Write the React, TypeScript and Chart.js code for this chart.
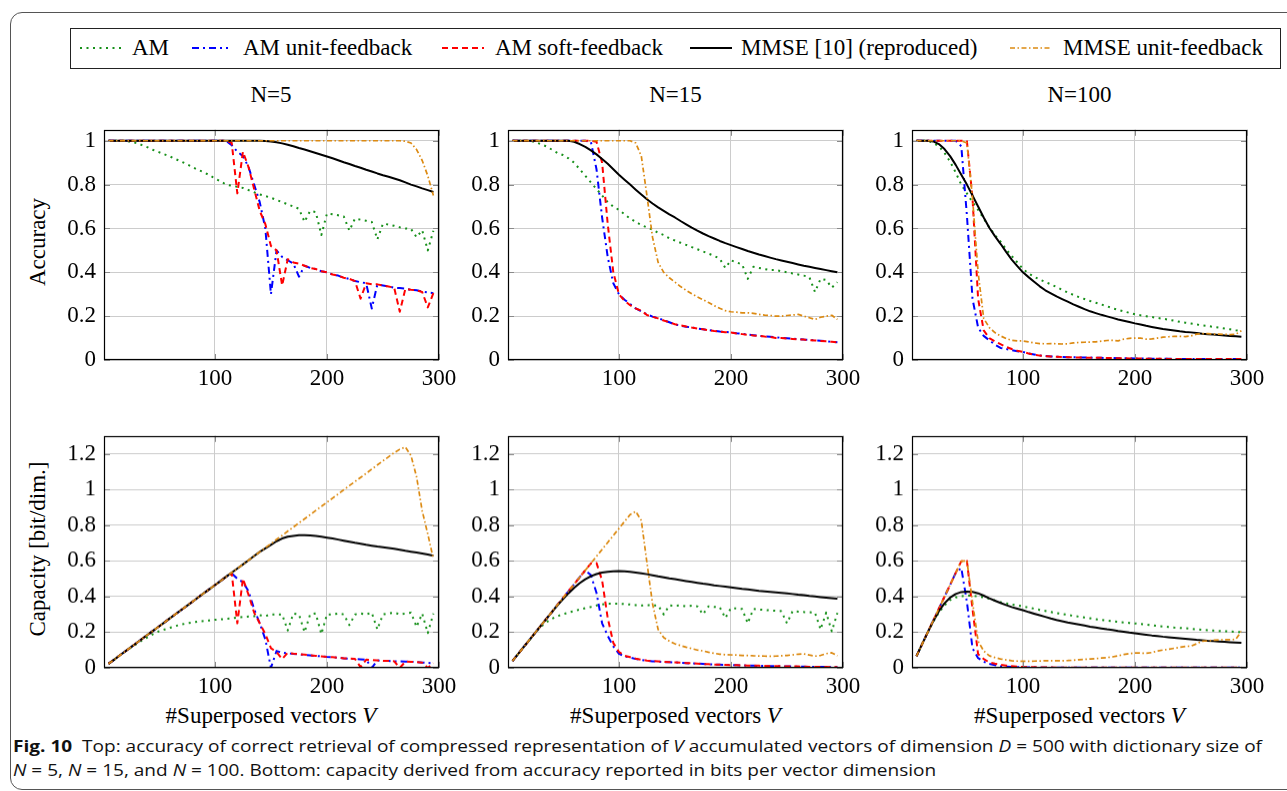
import React, { useEffect, useLayoutEffect, useRef } from 'react';
import { Chart, registerables } from 'chart.js';

Chart.register(...registerables);

const SERIF = "'Liberation Serif', 'Times New Roman', serif";
const SANS = "'Liberation Sans Narrow', 'Open Sans', 'Noto Sans', sans-serif";

// ---------- axes / labels ----------
const V = [
  5, 10, 15, 20, 25, 30, 35, 40, 45, 50,
  55, 60, 65, 70, 75, 80, 85, 90, 95, 100,
  105, 110, 115, 120, 125, 130, 135, 140, 145, 150,
  155, 160, 165, 170, 175, 180, 185, 190, 195, 200,
  205, 210, 215, 220, 225, 230, 235, 240, 245, 250,
  255, 260, 265, 270, 275, 280, 285, 290, 295,
];
const X_TICKS = [100, 200, 300];
const ACC_TICKS = [0, 0.2, 0.4, 0.6, 0.8, 1];
const CAP_TICKS = [0, 0.2, 0.4, 0.6, 0.8, 1, 1.2];
const SERIES_LABELS = ['AM', 'AM unit-feedback', 'AM soft-feedback', 'MMSE [10] (reproduced)', 'MMSE unit-feedback'];
const PANEL_TITLES = ['N=5', 'N=15', 'N=100'];
const Y_TITLES = ['Accuracy', 'Capacity [bit/dim.]'];

// ---------- N = 5, accuracy ----------
const acc5_am = [
  1, 1, 1, 1, 0.995, 0.99, 0.98, 0.97, 0.958, 0.948,
  0.938, 0.928, 0.916, 0.905, 0.893, 0.88, 0.867, 0.857, 0.843, 0.828,
  0.815, 0.8, 0.795, 0.79, 0.785, 0.775, 0.765, 0.755, 0.748, 0.74,
  0.73, 0.72, 0.71, 0.7, 0.69, 0.63, 0.68, 0.675, 0.57, 0.668,
  0.665, 0.66, 0.655, 0.59, 0.645, 0.64, 0.635, 0.63, 0.55, 0.622,
  0.618, 0.612, 0.605, 0.6, 0.598, 0.56, 0.592, 0.5, 0.59,
];
const acc5_unit = [
  1, 1, 1, 1, 1, 1, 1, 1, 1, 1,
  1, 1, 1, 1, 1, 1, 1, 1, 1, 1,
  1, 1, 0.98, 0.95, 0.93, 0.88, 0.8, 0.72, 0.6, 0.3,
  0.5, 0.47, 0.455, 0.44, 0.38, 0.43, 0.42, 0.415, 0.405, 0.4,
  0.39, 0.385, 0.375, 0.37, 0.36, 0.355, 0.35, 0.235, 0.345, 0.34,
  0.335, 0.33, 0.328, 0.325, 0.32, 0.318, 0.312, 0.308, 0.305,
];
const acc5_soft = [
  1, 1, 1, 1, 1, 1, 1, 1, 1, 1,
  1, 1, 1, 1, 1, 1, 1, 1, 1, 1,
  1, 1, 0.99, 0.76, 0.95, 0.88, 0.78, 0.68, 0.62, 0.52,
  0.5, 0.34, 0.46, 0.445, 0.44, 0.43, 0.42, 0.415, 0.405, 0.4,
  0.39, 0.385, 0.375, 0.37, 0.36, 0.28, 0.35, 0.345, 0.345, 0.34,
  0.335, 0.33, 0.22, 0.325, 0.32, 0.318, 0.31, 0.24, 0.305,
];
const acc5_mmse = [
  1, 1, 1, 1, 1, 1, 1, 1, 1, 1,
  1, 1, 1, 1, 1, 1, 1, 1, 1, 1,
  1, 1, 1, 1, 1, 1, 1, 1, 0.999, 0.997,
  0.993, 0.988, 0.982, 0.975, 0.967, 0.96, 0.952, 0.944, 0.936, 0.928,
  0.92, 0.911, 0.902, 0.894, 0.885, 0.877, 0.868, 0.86, 0.851, 0.843,
  0.836, 0.828, 0.82, 0.81, 0.8, 0.792, 0.783, 0.775, 0.766,
];
const acc5_mmseUnit = [
  1, 1, 1, 1, 1, 1, 1, 1, 1, 1,
  1, 1, 1, 1, 1, 1, 1, 1, 1, 1,
  1, 1, 1, 1, 1, 1, 1, 1, 1, 1,
  1, 1, 1, 1, 1, 1, 1, 1, 1, 1,
  1, 1, 1, 1, 1, 1, 1, 1, 1, 1,
  1, 1, 1, 0.998, 0.99, 0.96, 0.91, 0.84, 0.75,
];

// ---------- N = 15, accuracy ----------
const acc15_am = [
  1, 1, 1, 1, 0.995, 0.985, 0.975, 0.96, 0.945, 0.935,
  0.92, 0.9, 0.87, 0.84, 0.81, 0.78, 0.75, 0.72, 0.7, 0.685,
  0.665, 0.645, 0.63, 0.615, 0.605, 0.595, 0.58, 0.57, 0.555, 0.545,
  0.535, 0.525, 0.515, 0.505, 0.495, 0.485, 0.475, 0.462, 0.42, 0.455,
  0.445, 0.436, 0.37, 0.425, 0.42, 0.415, 0.41, 0.41, 0.405, 0.4,
  0.395, 0.39, 0.385, 0.378, 0.31, 0.37, 0.365, 0.33, 0.355,
];
const acc15_unit = [
  1, 1, 1, 1, 1, 1, 1, 1, 1, 1,
  1, 1, 1, 1, 0.995, 0.87, 0.65, 0.47, 0.35, 0.3,
  0.275, 0.255, 0.235, 0.222, 0.208, 0.198, 0.19, 0.182, 0.172, 0.162,
  0.157, 0.152, 0.148, 0.144, 0.14, 0.136, 0.133, 0.13, 0.128, 0.126,
  0.122, 0.119, 0.116, 0.113, 0.11, 0.108, 0.106, 0.104, 0.101, 0.099,
  0.097, 0.095, 0.093, 0.092, 0.09, 0.088, 0.086, 0.083, 0.081,
];
const acc15_soft = [
  1, 1, 1, 1, 1, 1, 1, 1, 1, 1,
  1, 1, 1, 1, 1, 0.995, 0.9, 0.62, 0.4, 0.3,
  0.27, 0.25, 0.235, 0.225, 0.205, 0.197, 0.19, 0.18, 0.172, 0.163,
  0.158, 0.153, 0.148, 0.144, 0.14, 0.136, 0.132, 0.13, 0.127, 0.125,
  0.121, 0.118, 0.115, 0.112, 0.11, 0.107, 0.105, 0.1, 0.1, 0.098,
  0.096, 0.094, 0.093, 0.09, 0.089, 0.087, 0.085, 0.083, 0.08,
];
const acc15_mmse = [
  1, 1, 1, 1, 1, 1, 1, 1, 1, 1,
  1, 0.995, 0.985, 0.972, 0.956, 0.938, 0.917, 0.895, 0.87, 0.845,
  0.822, 0.8, 0.777, 0.755, 0.733, 0.714, 0.696, 0.68, 0.664, 0.65,
  0.634, 0.619, 0.604, 0.59, 0.577, 0.565, 0.554, 0.543, 0.533, 0.524,
  0.515, 0.506, 0.497, 0.489, 0.481, 0.474, 0.467, 0.46, 0.454, 0.448,
  0.442, 0.436, 0.43, 0.425, 0.42, 0.415, 0.41, 0.405, 0.4,
];
const acc15_mmseUnit = [
  1, 1, 1, 1, 1, 1, 1, 1, 1, 1,
  1, 1, 1, 1, 1, 1, 1, 1, 1, 1,
  1, 1, 0.99, 0.93, 0.75, 0.56, 0.445, 0.4, 0.375, 0.355,
  0.335, 0.318, 0.302, 0.288, 0.275, 0.262, 0.248, 0.236, 0.225, 0.22,
  0.218, 0.215, 0.215, 0.213, 0.208, 0.205, 0.203, 0.2, 0.2, 0.203,
  0.205, 0.208, 0.2, 0.193, 0.185, 0.195, 0.2, 0.204, 0.185,
];

// ---------- N = 100, accuracy ----------
const acc100_am = [
  1, 1, 1, 0.99, 0.975, 0.945, 0.905, 0.855, 0.8, 0.76,
  0.72, 0.685, 0.645, 0.605, 0.57, 0.54, 0.505, 0.475, 0.445, 0.415,
  0.395, 0.38, 0.367, 0.356, 0.345, 0.333, 0.32, 0.308, 0.297, 0.287,
  0.278, 0.269, 0.261, 0.253, 0.245, 0.236, 0.229, 0.222, 0.215, 0.209,
  0.204, 0.2, 0.196, 0.192, 0.188, 0.184, 0.179, 0.174, 0.17, 0.166,
  0.162, 0.158, 0.155, 0.151, 0.148, 0.144, 0.14, 0.136, 0.133,
];
const acc100_unit = [
  1, 1, 1, 1, 1, 1, 1, 1, 0.975, 0.66,
  0.28, 0.148, 0.11, 0.09, 0.07, 0.055, 0.05, 0.045, 0.04, 0.037,
  0.03, 0.025, 0.02, 0.018, 0.016, 0.015, 0.014, 0.013, 0.012, 0.012,
  0.011, 0.011, 0.01, 0.01, 0.009, 0.009, 0.008, 0.008, 0.008, 0.007,
  0.007, 0.007, 0.006, 0.006, 0.006, 0.006, 0.005, 0.005, 0.005, 0.005,
  0.005, 0.005, 0.004, 0.004, 0.004, 0.004, 0.004, 0.004, 0.004,
];
const acc100_soft = [
  1, 1, 1, 1, 1, 1, 1, 1, 1, 0.998,
  0.74, 0.28, 0.135, 0.1, 0.085, 0.072, 0.06, 0.05, 0.042, 0.037,
  0.03, 0.024, 0.02, 0.017, 0.016, 0.015, 0.014, 0.013, 0.012, 0.011,
  0.011, 0.01, 0.01, 0.01, 0.009, 0.009, 0.008, 0.008, 0.007, 0.007,
  0.007, 0.006, 0.006, 0.006, 0.006, 0.005, 0.005, 0.005, 0.005, 0.005,
  0.005, 0.004, 0.004, 0.004, 0.004, 0.004, 0.004, 0.004, 0.004,
];
const acc100_mmse = [
  1, 1, 1, 0.997, 0.985, 0.962, 0.93, 0.89, 0.845, 0.8,
  0.75, 0.7, 0.65, 0.603, 0.565, 0.53, 0.493, 0.458, 0.428, 0.4,
  0.378, 0.357, 0.336, 0.318, 0.304, 0.29, 0.278, 0.266, 0.254, 0.243,
  0.232, 0.222, 0.214, 0.206, 0.199, 0.192, 0.185, 0.179, 0.173, 0.167,
  0.162, 0.156, 0.151, 0.146, 0.141, 0.138, 0.135, 0.131, 0.128, 0.126,
  0.123, 0.12, 0.118, 0.116, 0.114, 0.112, 0.11, 0.108, 0.106,
];
const acc100_mmseUnit = [
  1, 1, 1, 1, 1, 1, 1, 1, 1, 0.99,
  0.74, 0.4, 0.19, 0.148, 0.125, 0.11, 0.098, 0.09, 0.087, 0.087,
  0.083, 0.078, 0.075, 0.074, 0.075, 0.074, 0.073, 0.074, 0.078, 0.08,
  0.081, 0.082, 0.083, 0.086, 0.089, 0.09, 0.087, 0.095, 0.099, 0.1,
  0.1, 0.095, 0.096, 0.1, 0.104, 0.106, 0.108, 0.108, 0.107, 0.11,
  0.118, 0.12, 0.12, 0.118, 0.118, 0.117, 0.116, 0.118, 0.133,
];

// ---------- N = 5, capacity ----------
const cap5_am = [
  0.023, 0.046, 0.07, 0.092, 0.114, 0.134, 0.155, 0.172, 0.19, 0.205,
  0.215, 0.225, 0.235, 0.243, 0.25, 0.255, 0.26, 0.263, 0.266, 0.27,
  0.272, 0.275, 0.278, 0.282, 0.285, 0.288, 0.29, 0.295, 0.29, 0.3,
  0.3, 0.3, 0.21, 0.305, 0.3, 0.2, 0.3, 0.305, 0.19, 0.3,
  0.3, 0.305, 0.3, 0.24, 0.3, 0.305, 0.3, 0.31, 0.215, 0.3,
  0.305, 0.31, 0.3, 0.305, 0.31, 0.23, 0.305, 0.195, 0.305,
];
const cap5_unit = [
  0.023, 0.046, 0.07, 0.093, 0.116, 0.139, 0.163, 0.186, 0.209, 0.232,
  0.255, 0.279, 0.302, 0.325, 0.348, 0.371, 0.395, 0.418, 0.441, 0.464,
  0.487, 0.511, 0.53, 0.5, 0.48, 0.43, 0.33, 0.25, 0.16, 0.0,
  0.095, 0.085, 0.082, 0.079, 0.076, 0.073, 0.07, 0.067, 0.065, 0.062,
  0.06, 0.057, 0.054, 0.052, 0.05, 0.048, 0.046, 0.0, 0.042, 0.04,
  0.039, 0.037, 0.036, 0.035, 0.034, 0.032, 0.03, 0.028, 0.026,
];
const cap5_soft = [
  0.023, 0.046, 0.07, 0.093, 0.116, 0.139, 0.163, 0.186, 0.209, 0.232,
  0.255, 0.279, 0.302, 0.325, 0.348, 0.371, 0.395, 0.418, 0.441, 0.464,
  0.487, 0.511, 0.53, 0.25, 0.5, 0.41, 0.31, 0.25, 0.19, 0.11,
  0.09, 0.05, 0.085, 0.08, 0.077, 0.074, 0.071, 0.068, 0.065, 0.062,
  0.06, 0.057, 0.054, 0.052, 0.05, 0.005, 0.046, 0.044, 0.042, 0.04,
  0.039, 0.037, 0.0, 0.035, 0.034, 0.032, 0.03, 0.0, 0.026,
];
const cap5_mmse = [
  0.023, 0.046, 0.07, 0.093, 0.116, 0.139, 0.163, 0.186, 0.209, 0.232,
  0.255, 0.279, 0.302, 0.325, 0.348, 0.371, 0.395, 0.418, 0.441, 0.464,
  0.487, 0.511, 0.534, 0.557, 0.58, 0.603, 0.627, 0.65, 0.67, 0.69,
  0.71, 0.725, 0.735, 0.74, 0.743, 0.743, 0.742, 0.739, 0.735, 0.73,
  0.725, 0.719, 0.713, 0.707, 0.701, 0.696, 0.69, 0.685, 0.68, 0.676,
  0.672, 0.668, 0.662, 0.656, 0.651, 0.646, 0.641, 0.635, 0.628,
];
const cap5_mmseUnit = [
  0.023, 0.046, 0.07, 0.093, 0.116, 0.139, 0.163, 0.186, 0.209, 0.232,
  0.255, 0.279, 0.302, 0.325, 0.348, 0.371, 0.395, 0.418, 0.441, 0.464,
  0.487, 0.511, 0.534, 0.557, 0.58, 0.603, 0.627, 0.65, 0.673, 0.696,
  0.72, 0.742, 0.766, 0.789, 0.812, 0.835, 0.858, 0.882, 0.905, 0.928,
  0.951, 0.974, 0.998, 1.021, 1.044, 1.067, 1.09, 1.114, 1.137, 1.16,
  1.183, 1.206, 1.225, 1.237, 1.19, 1.07, 0.88, 0.75, 0.61,
];

// ---------- N = 15, capacity ----------
const cap15_am = [
  0.039, 0.078, 0.117, 0.156, 0.195, 0.228, 0.255, 0.275, 0.29, 0.3,
  0.31, 0.318, 0.327, 0.335, 0.342, 0.35, 0.355, 0.36, 0.36, 0.36,
  0.358, 0.355, 0.352, 0.35, 0.352, 0.35, 0.35, 0.3, 0.35, 0.348,
  0.35, 0.345, 0.348, 0.345, 0.3, 0.345, 0.342, 0.34, 0.28, 0.335,
  0.333, 0.33, 0.25, 0.33, 0.327, 0.325, 0.322, 0.32, 0.318, 0.25,
  0.318, 0.315, 0.313, 0.312, 0.31, 0.215, 0.31, 0.205, 0.308,
];
const cap15_unit = [
  0.039, 0.078, 0.117, 0.156, 0.195, 0.234, 0.273, 0.312, 0.352, 0.391,
  0.43, 0.469, 0.508, 0.547, 0.52, 0.42, 0.25, 0.18, 0.12, 0.08,
  0.065, 0.058, 0.05, 0.045, 0.04, 0.037, 0.035, 0.033, 0.032, 0.031,
  0.029, 0.027, 0.025, 0.024, 0.022, 0.02, 0.019, 0.018, 0.017, 0.016,
  0.015, 0.014, 0.013, 0.012, 0.011, 0.011, 0.01, 0.01, 0.009, 0.009,
  0.008, 0.007, 0.007, 0.006, 0.006, 0.005, 0.005, 0.004, 0.004,
];
const cap15_soft = [
  0.039, 0.078, 0.117, 0.156, 0.195, 0.234, 0.273, 0.312, 0.352, 0.391,
  0.43, 0.469, 0.508, 0.547, 0.586, 0.588, 0.49, 0.28, 0.14, 0.09,
  0.068, 0.06, 0.052, 0.046, 0.041, 0.038, 0.036, 0.034, 0.032, 0.031,
  0.029, 0.027, 0.026, 0.024, 0.022, 0.021, 0.019, 0.018, 0.017, 0.016,
  0.015, 0.014, 0.013, 0.012, 0.012, 0.011, 0.01, 0.01, 0.009, 0.009,
  0.008, 0.008, 0.007, 0.006, 0.006, 0.005, 0.005, 0.004, 0.004,
];
const cap15_mmse = [
  0.039, 0.078, 0.117, 0.156, 0.195, 0.234, 0.273, 0.312, 0.35, 0.385,
  0.418, 0.448, 0.475, 0.497, 0.514, 0.526, 0.534, 0.539, 0.541, 0.542,
  0.541, 0.538, 0.534, 0.53, 0.525, 0.519, 0.513, 0.508, 0.502, 0.497,
  0.492, 0.487, 0.482, 0.477, 0.472, 0.468, 0.463, 0.459, 0.455, 0.451,
  0.447, 0.443, 0.44, 0.436, 0.432, 0.429, 0.426, 0.423, 0.42, 0.417,
  0.414, 0.41, 0.407, 0.403, 0.4, 0.397, 0.394, 0.391, 0.388,
];
const cap15_mmseUnit = [
  0.039, 0.078, 0.117, 0.156, 0.195, 0.234, 0.273, 0.312, 0.352, 0.391,
  0.43, 0.469, 0.508, 0.547, 0.586, 0.625, 0.664, 0.703, 0.742, 0.781,
  0.82, 0.859, 0.877, 0.826, 0.59, 0.36, 0.215, 0.17, 0.15, 0.135,
  0.125, 0.116, 0.108, 0.1, 0.095, 0.088, 0.082, 0.077, 0.074, 0.073,
  0.072, 0.07, 0.07, 0.068, 0.067, 0.066, 0.065, 0.066, 0.068, 0.07,
  0.073, 0.077, 0.079, 0.072, 0.066, 0.07, 0.08, 0.085, 0.068,
];

// ---------- N = 100, capacity ----------
const cap100_am = [
  0.066, 0.133, 0.199, 0.26, 0.31, 0.35, 0.38, 0.395, 0.402, 0.405,
  0.405, 0.4, 0.396, 0.388, 0.378, 0.369, 0.362, 0.355, 0.35, 0.345,
  0.338, 0.332, 0.325, 0.319, 0.313, 0.307, 0.302, 0.297, 0.292, 0.287,
  0.283, 0.278, 0.273, 0.269, 0.265, 0.261, 0.258, 0.255, 0.252, 0.249,
  0.246, 0.243, 0.239, 0.235, 0.232, 0.229, 0.226, 0.224, 0.222, 0.219,
  0.216, 0.213, 0.211, 0.209, 0.207, 0.205, 0.204, 0.202, 0.2,
];
const cap100_unit = [
  0.066, 0.133, 0.199, 0.266, 0.332, 0.399, 0.465, 0.532, 0.56, 0.37,
  0.11, 0.055, 0.035, 0.022, 0.016, 0.01, 0.007, 0.005, 0.004, 0.003,
  0.003, 0.003, 0.002, 0.002, 0.002, 0.002, 0.002, 0.002, 0.002, 0.002,
  0.002, 0.002, 0.001, 0.001, 0.001, 0.001, 0.001, 0.001, 0.001, 0.001,
  0.001, 0.001, 0.001, 0.001, 0.001, 0.001, 0.001, 0.001, 0.001, 0.001,
  0.001, 0.001, 0.001, 0.001, 0.001, 0.001, 0.001, 0.001, 0.001,
];
const cap100_soft = [
  0.066, 0.133, 0.199, 0.266, 0.332, 0.399, 0.465, 0.532, 0.598, 0.6,
  0.33, 0.077, 0.05, 0.031, 0.024, 0.018, 0.013, 0.01, 0.007, 0.005,
  0.004, 0.004, 0.003, 0.003, 0.003, 0.002, 0.002, 0.002, 0.002, 0.002,
  0.002, 0.002, 0.002, 0.001, 0.001, 0.001, 0.001, 0.001, 0.001, 0.001,
  0.001, 0.001, 0.001, 0.001, 0.001, 0.001, 0.001, 0.001, 0.001, 0.001,
  0.001, 0.001, 0.001, 0.001, 0.001, 0.001, 0.001, 0.001, 0.001,
];
const cap100_mmse = [
  0.066, 0.133, 0.199, 0.262, 0.318, 0.362, 0.394, 0.414, 0.425, 0.428,
  0.426, 0.418, 0.405, 0.39, 0.377, 0.364, 0.352, 0.341, 0.332, 0.323,
  0.313, 0.304, 0.295, 0.286, 0.277, 0.269, 0.262, 0.255, 0.249, 0.243,
  0.237, 0.231, 0.226, 0.221, 0.216, 0.212, 0.207, 0.203, 0.198, 0.194,
  0.19, 0.186, 0.182, 0.179, 0.175, 0.172, 0.169, 0.166, 0.163, 0.16,
  0.157, 0.155, 0.152, 0.15, 0.148, 0.146, 0.144, 0.142, 0.14,
];
const cap100_mmseUnit = [
  0.066, 0.133, 0.199, 0.266, 0.332, 0.399, 0.465, 0.532, 0.598, 0.6,
  0.37, 0.15, 0.095, 0.068, 0.058, 0.05, 0.045, 0.04, 0.038, 0.037,
  0.037, 0.038, 0.039, 0.04, 0.04, 0.04, 0.04, 0.041, 0.043, 0.046,
  0.048, 0.05, 0.052, 0.055, 0.058, 0.062, 0.068, 0.075, 0.08, 0.084,
  0.083, 0.082, 0.086, 0.095, 0.1, 0.104, 0.11, 0.115, 0.12, 0.122,
  0.135, 0.15, 0.152, 0.155, 0.157, 0.158, 0.158, 0.16, 0.205,
];

const PANELS = [
  [acc5_am, acc5_unit, acc5_soft, acc5_mmse, acc5_mmseUnit],
  [acc15_am, acc15_unit, acc15_soft, acc15_mmse, acc15_mmseUnit],
  [acc100_am, acc100_unit, acc100_soft, acc100_mmse, acc100_mmseUnit],
  [cap5_am, cap5_unit, cap5_soft, cap5_mmse, cap5_mmseUnit],
  [cap15_am, cap15_unit, cap15_soft, cap15_mmse, cap15_mmseUnit],
  [cap100_am, cap100_unit, cap100_soft, cap100_mmse, cap100_mmseUnit],
];

// ---------- styles & layout ----------
const STYLES = [
  { color: '#17901a', dash: [2, 4.5], width: 2, svgDash: '2 4.5' },
  { color: '#0000ff', dash: [7, 4, 2, 4], width: 2, svgDash: '7 4 2 4' },
  { color: '#ff0000', dash: [6, 4], width: 2, svgDash: '6 4' },
  { color: '#000000', dash: [], width: 2, svgDash: '' },
  { color: '#dc8a12', dash: [5, 2.5, 1.5, 2.5], width: 1.7, svgDash: '5 2.5 1.5 2.5' },
];

const COL_LEFT = [103.5, 508, 912];
const PLOT_W = 335;
const ROW_TOP = [123.5, 430];
const PLOT_H = [236.5, 237.5];
const Y_MAX = [1.05, 1.3];
const PAD_L = 72;
const PAD_R = 32;
const PAD_T = 16;
const PAD_B = 36;
const TICK_FONT = 23;

const framePlugin = {
  id: 'pgfFrame',
  afterDraw(chart: any) {
    const { ctx, chartArea: a, scales } = chart;
    ctx.save();
    ctx.lineWidth = 1;
    ctx.strokeStyle = '#8a8a8a';
    ctx.beginPath();
    scales.y.ticks.forEach((t: any) => {
      const y = Math.round(scales.y.getPixelForValue(t.value)) + 0.5;
      ctx.moveTo(a.left, y); ctx.lineTo(a.left + 6, y);
      ctx.moveTo(a.right - 6, y); ctx.lineTo(a.right, y);
    });
    scales.x.ticks.forEach((t: any) => {
      const x = Math.round(scales.x.getPixelForValue(t.value)) + 0.5;
      ctx.moveTo(x, a.bottom); ctx.lineTo(x, a.bottom - 6);
      ctx.moveTo(x, a.top); ctx.lineTo(x, a.top + 6);
    });
    ctx.stroke();
    ctx.strokeStyle = '#000';
    ctx.lineWidth = 1.2;
    ctx.strokeRect(Math.round(a.left) + 0.5, Math.round(a.top) + 0.5, Math.round(a.right - a.left) - 1, Math.round(a.bottom - a.top) - 1);
    ctx.restore();
  },
};

function fmt(v: number) {
  return String(Number(Number(v).toFixed(1)));
}

function Panel({ index }: { index: number }) {
  const ref = useRef<HTMLCanvasElement | null>(null);
  const col = index % 3;
  const row = Math.floor(index / 3);
  const w = PAD_L + PLOT_W + PAD_R;
  const h = PAD_T + PLOT_H[row] + PAD_B;

  useEffect(() => {
    const series = PANELS[index];
    const yTicks = row === 0 ? ACC_TICKS : CAP_TICKS;
    const chart = new Chart(ref.current as HTMLCanvasElement, {
      type: 'line',
      data: {
        datasets: series.map((ys, i) => ({
          label: SERIES_LABELS[i],
          data: V.map((v, k) => ({ x: v, y: ys[k] })),
          borderColor: STYLES[i].color,
          backgroundColor: STYLES[i].color,
          borderDash: STYLES[i].dash,
          borderWidth: STYLES[i].width,
          borderCapStyle: 'butt',
          borderJoinStyle: 'round',
          pointRadius: 0,
          fill: false,
          tension: 0,
          order: 5 - i,
        })),
      },
      options: {
        responsive: false,
        maintainAspectRatio: false,
        animation: false,
        devicePixelRatio: 1,
        events: [],
        layout: { padding: { left: 0, right: PAD_R, top: PAD_T, bottom: 0 } },
        plugins: { legend: { display: false }, tooltip: { enabled: false }, title: { display: false } },
        scales: {
          x: {
            type: 'linear',
            min: 1,
            max: 300,
            afterBuildTicks: (s: any) => { s.ticks = X_TICKS.map((v) => ({ value: v })); },
            afterFit: (s: any) => { s.height = PAD_B; },
            grid: { color: '#cccccc', lineWidth: 1, drawTicks: false },
            border: { display: false },
            ticks: {
              font: { family: SERIF, size: TICK_FONT },
              color: '#000',
              padding: 5,
              maxRotation: 0,
              autoSkip: false,
              callback: (v: any) => String(v),
            },
          },
          y: {
            type: 'linear',
            min: 0,
            max: Y_MAX[row],
            afterBuildTicks: (s: any) => { s.ticks = yTicks.map((v) => ({ value: v })); },
            afterFit: (s: any) => { s.width = PAD_L; },
            grid: { color: '#cccccc', lineWidth: 1, drawTicks: false },
            border: { display: false },
            ticks: {
              font: { family: SERIF, size: TICK_FONT },
              color: '#000',
              padding: 8,
              autoSkip: false,
              callback: (v: any) => fmt(v),
            },
          },
        },
      },
      plugins: [framePlugin],
    } as any);
    return () => chart.destroy();
  }, []);

  return (
    <canvas
      ref={ref}
      width={w}
      height={h}
      style={{ position: 'absolute', left: COL_LEFT[col] - PAD_L, top: ROW_TOP[row] - PAD_T, width: w, height: h }}
    />
  );
}

const LEGEND_POS = [
  { sx: 80, sw: 42, tx: 132 },
  { sx: 192, sw: 36, tx: 243 },
  { sx: 442, sw: 42, tx: 495 },
  { sx: 690, sw: 42, tx: 741 },
  { sx: 1010, sw: 41, tx: 1063 },
];

function Legend() {
  return (
    <>
      <div style={{ position: 'absolute', left: 70, top: 28, width: 1211, height: 41, boxSizing: 'border-box', border: '1px solid #222' }} />
      {SERIES_LABELS.map((lab, i) => (
        <React.Fragment key={lab}>
          <svg style={{ position: 'absolute', left: LEGEND_POS[i].sx, top: 46, width: LEGEND_POS[i].sw, height: 4 }}>
            <line x1={0} y1={2} x2={LEGEND_POS[i].sw} y2={2} stroke={STYLES[i].color} strokeWidth={STYLES[i].width} strokeDasharray={STYLES[i].svgDash} />
          </svg>
          <div style={{ position: 'absolute', left: LEGEND_POS[i].tx, top: 34, height: 28, lineHeight: '28px', fontFamily: SERIF, fontSize: TICK_FONT, whiteSpace: 'nowrap', color: '#000' }}>
            {lab}
          </div>
        </React.Fragment>
      ))}
    </>
  );
}

function Caption() {
  const l1 = useRef<HTMLDivElement | null>(null);
  const l2 = useRef<HTMLDivElement | null>(null);
  useLayoutEffect(() => {
    if (!l1.current || !l2.current) return;
    const w1 = l1.current.getBoundingClientRect().width;
    const k = 1249 / w1;
    l1.current.style.transform = `scaleX(${k})`;
    l2.current.style.transform = `scaleX(${k})`;
  }, []);
  const base: React.CSSProperties = {
    position: 'absolute', left: 13, fontFamily: SANS, fontSize: 16.5, lineHeight: '22px',
    whiteSpace: 'nowrap', transformOrigin: '0 0', color: '#111', display: 'inline-block',
  };
  return (
    <>
      <div ref={l1} style={{ ...base, top: 735 }}>
        <b>Fig. 10</b>&nbsp;&nbsp;Top: accuracy of correct retrieval of compressed representation of <i>V</i> accumulated vectors of dimension <i>D</i> = 500 with dictionary size of
      </div>
      <div ref={l2} style={{ ...base, top: 759 }}>
        <i>N</i> = 5, <i>N</i> = 15, and <i>N</i> = 100. Bottom: capacity derived from accuracy reported in bits per vector dimension
      </div>
    </>
  );
}

export default function App() {
  const textBase: React.CSSProperties = { position: 'absolute', fontFamily: SERIF, fontSize: TICK_FONT, color: '#000', whiteSpace: 'nowrap' };
  return (
    <div style={{ position: 'fixed', left: 0, top: 0, width: 1287, height: 791, background: '#fff', overflow: 'hidden' }}>
      <div style={{ position: 'absolute', left: 10, top: 12, width: 1300, height: 778, border: '1px solid #555', borderRadius: 12, boxSizing: 'border-box' }} />
      <Legend />
      {PANEL_TITLES.map((t, c) => (
        <div key={t} style={{ ...textBase, left: COL_LEFT[c] + PLOT_W / 2, top: 95, transform: 'translate(-50%, -50%)' }}>{t}</div>
      ))}
      {Y_TITLES.map((t, r) => (
        <div key={t} style={{ ...textBase, left: 38, top: ROW_TOP[r] + PLOT_H[r] / 2, transform: 'translate(-50%, -50%) rotate(-90deg)' }}>{t}</div>
      ))}
      {COL_LEFT.map((l, c) => (
        <div key={c} style={{ ...textBase, left: l + PLOT_W / 2, top: 716, transform: 'translate(-50%, -50%)' }}>
          #Superposed vectors <i>V</i>
        </div>
      ))}
      {[0, 1, 2, 3, 4, 5].map((i) => <Panel key={i} index={i} />)}
      <Caption />
    </div>
  );
}
